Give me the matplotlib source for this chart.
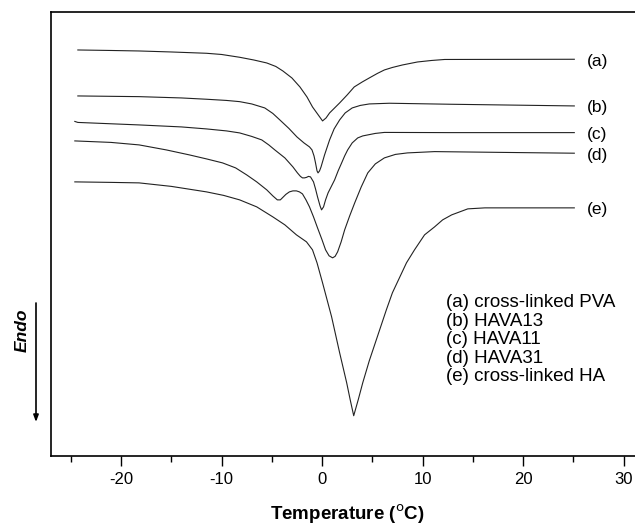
import matplotlib
matplotlib.use("Agg")
import matplotlib.pyplot as plt
from matplotlib.ticker import MultipleLocator

plt.rcParams['font.family'] = ['Liberation Sans', 'DejaVu Sans']

# DSC traces: temperature (deg C) vs heat flow (a.u., offset)
T_a = [-24.3, -21, -18.2, -15, -11.5, -10, -8.2, -6.8, -5.5, -4.6, -3.9, -3.0, -2.2, -1.5, -0.95, -0.45, 0.05,
       0.4, 0.75, 1.2, 1.75, 2.5, 3.2, 4.0, 4.7, 5.5, 6.2, 7.0, 8.0, 9.5, 10.9, 12.2, 25.1]
H_a = [40.6, 40.55, 40.5, 40.4, 40.27, 40.15, 39.87, 39.6, 39.3, 38.95, 38.5, 37.8, 36.9, 35.9, 34.9, 34.2, 33.5,
       33.8, 34.3, 34.75, 35.3, 36.1, 36.9, 37.4, 37.8, 38.25, 38.6, 38.85, 39.1, 39.4, 39.55, 39.65, 39.67]

T_b = [-24.3, -18.2, -14, -11.5, -9.5, -8.2, -7, -5.7, -4.9, -4.2, -3.3, -2.5, -1.8, -1.25, -1.0, -0.8, -0.65,
       -0.5, -0.4, -0.25, -0.1, 0.25, 0.75, 1.2, 1.75, 2.3, 3.0, 3.8, 4.7, 6.7, 12.7, 25.1]
H_b = [36.0, 35.93, 35.8, 35.67, 35.55, 35.43, 35.2, 34.8, 34.25, 33.6, 32.75, 31.9, 31.3, 30.9, 30.6, 30.0, 29.3,
       28.5, 28.3, 28.5, 28.9, 30.1, 31.6, 32.7, 33.6, 34.3, 34.8, 35.05, 35.2, 35.27, 35.17, 35.0]

T_c = [-24.6, -24.3, -18.2, -14, -11.5, -9.5, -8.2, -7, -6.0, -5.3, -4.7, -3.7, -2.9, -2.45, -2.15, -1.95, -1.75,
       -1.55, -1.35, -1.15, -0.85, -0.65, -0.45, -0.2, -0.05, 0.15, 0.35, 0.6, 0.85, 1.25, 1.6, 1.95, 2.25, 2.55,
       3.0, 3.55, 4.05, 4.55, 5.3, 6.2, 12.7, 25.1]
H_c = [33.45, 33.35, 33.1, 32.9, 32.7, 32.5, 32.3, 31.95, 31.6, 31.1, 30.6, 29.8, 28.9, 28.3, 27.95, 27.8, 27.8,
       27.85, 27.95, 27.9, 27.4, 26.7, 25.9, 25.0, 24.6, 24.9, 25.6, 26.3, 26.8, 27.6, 28.5, 29.3, 30.0, 30.6,
       31.3, 31.8, 32.0, 32.1, 32.25, 32.35, 32.33, 32.33]

T_d = [-24.6, -21, -18.2, -15.5, -13.2, -11.5, -9.9, -8.6, -7.5, -6.5, -5.5, -4.9, -4.45, -4.15, -3.95, -3.6,
       -3.25, -2.9, -2.55, -2.25, -1.95, -1.6, -1.25, -0.85, -0.45, 0.0, 0.35, 0.7, 1.05, 1.3, 1.55, 1.9, 2.25,
       2.75, 3.25, 3.9, 4.55, 5.3, 6.2, 7.3, 8.5, 11.2, 18, 25.1]
H_d = [31.5, 31.35, 31.1, 30.6, 30.1, 29.7, 29.3, 28.8, 28.1, 27.4, 26.6, 26.0, 25.6, 25.6, 25.8, 26.15,
       26.4, 26.5, 26.5, 26.4, 26.2, 25.6, 24.9, 23.9, 22.8, 21.6, 20.6, 20.0, 19.8, 19.95, 20.4, 21.4, 22.6,
       24.0, 25.3, 26.9, 28.3, 29.2, 29.8, 30.15, 30.3, 30.43, 30.35, 30.27]

T_e = [-24.6, -21, -18.2, -15, -11.5, -9.8, -8.2, -6.5, -4.9, -3.7, -2.55, -1.55, -0.95, -0.5, 0.05, 0.5, 0.95,
       1.35, 1.75, 2.1, 2.45, 2.8, 3.15, 3.6, 4.05, 4.7, 5.4, 5.9, 6.4, 7.0, 7.7, 8.4, 9.2, 10.2, 11.2, 12.0,
       12.9, 14.5, 16.2, 25.1]
H_e = [27.4, 27.35, 27.3, 26.95, 26.4, 26.05, 25.6, 24.9, 23.9, 23.1, 22.1, 21.4, 20.6, 19.3, 17.3, 15.6, 13.9,
       12.1, 10.3, 8.8, 7.3, 5.6, 4.0, 5.6, 7.3, 9.5, 11.6, 13.1, 14.6, 16.3, 17.8, 19.3, 20.6, 22.1, 22.9, 23.6,
       24.1, 24.7, 24.8, 24.8]

curve_tags = ['(a)', '(b)', '(c)', '(d)', '(e)']
legend_lines = ['(a) cross-linked PVA', '(b) HAVA13', '(c) HAVA11', '(d) HAVA31', '(e) cross-linked HA']
x_ticks = [-20, -10, 0, 10, 20, 30]

W, H = 635, 526
fig = plt.figure(figsize=(W / 100, H / 100), dpi=100)
left_px, bottom_px, top_px = 50.7, 455.7, 12.0
xmin, xmax = -27.0, 33.0
px_per_deg = 10.05
ax = fig.add_axes([left_px / W, 1 - bottom_px / H,
                   (xmax - xmin) * px_per_deg / W, (bottom_px - top_px) / H])

series = [(T_a, H_a), (T_b, H_b), (T_c, H_c), (T_d, H_d), (T_e, H_e)]
for T, Hf in series:
    ax.plot(T, Hf, color='#222222', lw=0.8, solid_joinstyle='round')

for (T, Hf), tag in zip(series, curve_tags):
    ax.text(26.4, Hf[-1] - 0.2, tag, fontsize=12.5, ha='left', va='center')

legend_y = [15.3, 13.45, 11.6, 9.75, 7.9]
for txt, yy in zip(legend_lines, legend_y):
    ax.text(12.3, yy, txt, fontsize=13.5, ha='left', va='center')

ax.set_xlim(xmin, xmax)
ax.set_ylim(0, 44.4)
ax.set_xticks(x_ticks)
ax.set_xticklabels([str(t) for t in x_ticks])
ax.xaxis.set_minor_locator(MultipleLocator(5))
ax.set_yticks([])
ax.tick_params(axis='x', which='major', direction='out', length=7, width=1.0, pad=5, labelsize=12)
ax.tick_params(axis='x', which='minor', direction='out', length=4, width=1.0)
for s in ['left', 'bottom', 'top']:
    ax.spines[s].set_linewidth(1.2)
ax.spines['right'].set_visible(False)

fig.text(347 / W, 1 - 514 / H, 'Temperature ($^{\\rm o}$C)', fontsize=13.5, fontweight='bold',
         ha='center', va='center')
fig.text(22 / W, 1 - 330 / H, 'Endo', fontsize=12.5, fontweight='bold', fontstyle='italic',
         rotation=90, ha='center', va='center')
fig.patches.append(matplotlib.patches.FancyArrowPatch(
    (36 / W, 1 - 303 / H), (36 / W, 1 - 422 / H), transform=fig.transFigure,
    arrowstyle='-|>,head_length=4,head_width=1.5', color='black', lw=1.2,
    shrinkA=0, shrinkB=0))

fig.savefig('out.png', dpi=100)
